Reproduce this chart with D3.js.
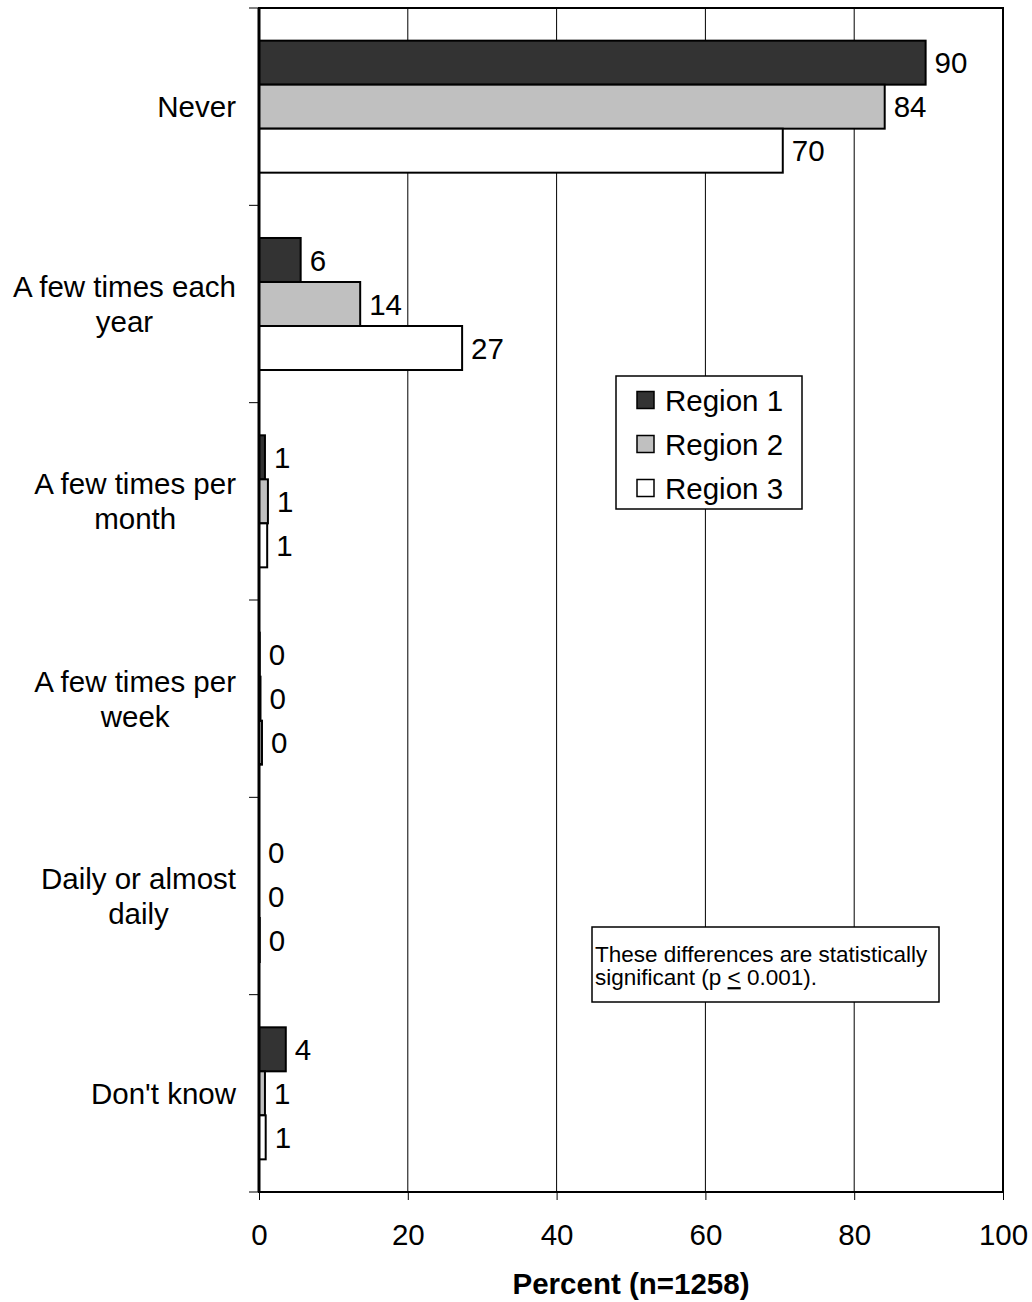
<!DOCTYPE html>
<html><head><meta charset="utf-8">
<script src="https://cdn.jsdelivr.net/npm/d3@7"></script>
<style>body{margin:0;background:#fff}svg{display:block;font-family:Arial,"Liberation Sans",sans-serif}</style>
</head><body>
<svg id="c" width="1032" height="1302"></svg>
<script>
const categories = [["Never"],["A few times each","year"],["A few times per","month"],["A few times per","week"],["Daily or almost","daily"],["Don't know"]];
const seriesNames = ["Region 1","Region 2","Region 3"];
const seriesColors = ["#333333","#c0c0c0","#ffffff"];
const region1 = [89.6, 5.6, 0.8, 0.1, 0.0, 3.6];
const region2 = [84.1, 13.6, 1.2, 0.2, 0.0, 0.8];
const region3 = [70.4, 27.3, 1.1, 0.4, 0.1, 0.9];
const xTicks = [0,20,40,60,80,100];
const axisTitle = "Percent (n=1258)";
const noteLine1 = "These differences are statistically";
const noteLine2 = ["significant (p ", "<", " 0.001)."];

const series = [region1, region2, region3];
const FS = 29.5;
const svg = d3.select("#c");
const L = 259, R = 1003, T = 8, B = 1192;
const x = d3.scaleLinear().domain([0,100]).range([L,R]);
const y = d3.scaleBand().domain(d3.range(categories.length)).range([T,B]).paddingInner(0.331).paddingOuter(0.1655);
const ys = d3.scaleBand().domain(d3.range(series.length)).range([0,y.bandwidth()]);

// gridlines
svg.append("g").selectAll("line").data(xTicks.filter(t=>t>0&&t<100)).join("line")
  .attr("x1",d=>x(d)).attr("x2",d=>x(d)).attr("y1",T).attr("y2",B)
  .attr("stroke","#000").attr("stroke-width",1);

// bars
series.forEach((vals,si)=>{
  const g = svg.append("g");
  g.selectAll("rect").data(vals).join("rect")
    .attr("x",x(0)).attr("y",(d,i)=>y(i)+ys(si))
    .attr("width",d=>x(d)-x(0)).attr("height",ys.bandwidth())
    .attr("fill",seriesColors[si]).attr("stroke","#000").attr("stroke-width",2);
  g.selectAll("text").data(vals).join("text")
    .attr("x",d=>x(d)+9).attr("y",(d,i)=>y(i)+ys(si)+ys.bandwidth()/2)
    .attr("dy","0.36em").attr("font-size",FS).attr("fill","#000")
    .text(d=>Math.round(d));
});

// frame
svg.append("rect").attr("x",L).attr("y",T).attr("width",R-L).attr("height",B-T)
  .attr("fill","none").attr("stroke","#000").attr("stroke-width",2);
svg.append("line").attr("x1",L).attr("x2",L).attr("y1",T).attr("y2",B).attr("stroke","#000").attr("stroke-width",3);

// left ticks at category boundaries
const bounds = d3.range(categories.length+1).map(i=>T+i*(B-T)/categories.length);
svg.append("g").selectAll("line").data(bounds).join("line")
  .attr("x1",L-10).attr("x2",L).attr("y1",d=>d).attr("y2",d=>d)
  .attr("stroke","#000").attr("stroke-width",1);

// bottom axis
const xa = svg.append("g").attr("transform",`translate(0,${B})`)
  .call(d3.axisBottom(x).tickValues(xTicks).tickSize(8).tickPadding(24));
xa.select(".domain").remove();
xa.selectAll("line").attr("stroke","#000");
xa.selectAll("text").attr("font-size",FS).attr("fill","#000").attr("font-family","Arial,'Liberation Sans',sans-serif");

svg.append("text").attr("x",(L+R)/2).attr("y",1294).attr("text-anchor","middle")
  .attr("font-size",FS).attr("font-weight","bold").text(axisTitle);

// category labels
categories.forEach((lines,i)=>{
  const cy = y(i)+y.bandwidth()/2;
  const g = svg.append("g");
  const texts = lines.map((t,j)=>g.append("text").attr("font-size",FS).attr("text-anchor","middle")
     .attr("y",cy+(j-(lines.length-1)/2)*35).attr("dy","0.36em").text(t));
  const w = d3.max(texts,t=>t.node().getComputedTextLength());
  texts.forEach(t=>t.attr("x",236-w/2));
});

// legend
const lg = svg.append("g");
lg.append("rect").attr("x",616).attr("y",376).attr("width",186).attr("height",133)
  .attr("fill","#fff").attr("stroke","#000").attr("stroke-width",1.5);
seriesNames.forEach((n,i)=>{
  const cy = 400+i*44;
  lg.append("rect").attr("x",637).attr("y",cy-8.5).attr("width",17).attr("height",17)
    .attr("fill",seriesColors[i]).attr("stroke","#000").attr("stroke-width",1.5);
  lg.append("text").attr("x",665).attr("y",cy).attr("dy","0.36em").attr("font-size",FS).text(n);
});

// note
const ng = svg.append("g");
ng.append("rect").attr("x",592).attr("y",927).attr("width",347).attr("height",75)
  .attr("fill","#fff").attr("stroke","#000").attr("stroke-width",1.5);
ng.append("text").attr("x",595).attr("y",953.5).attr("dy","0.36em").attr("font-size",22.5).text(noteLine1);
const t2 = ng.append("text").attr("x",595).attr("y",977).attr("dy","0.36em").attr("font-size",22.5);
noteLine2.forEach((s,i)=>{
  const ts = t2.append("tspan").text(s);
  if(i===1) ts.attr("text-decoration","underline");
});
</script>
</body></html>
